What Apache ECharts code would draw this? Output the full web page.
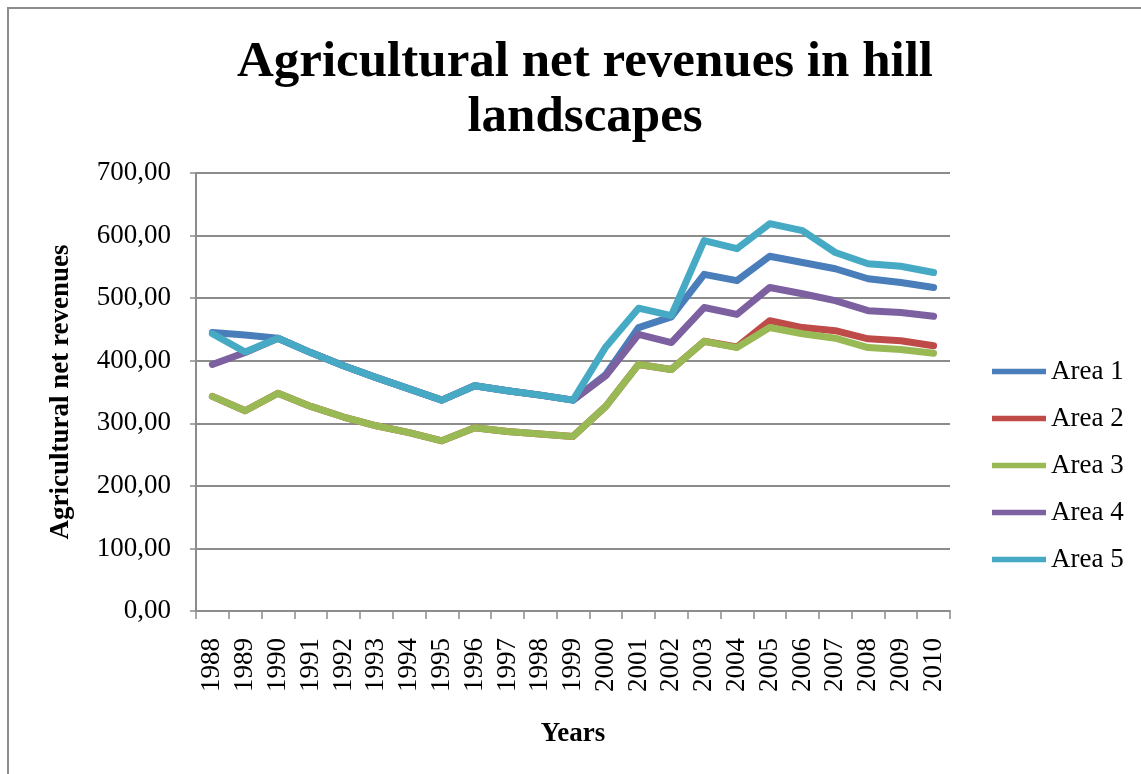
<!DOCTYPE html>
<html>
<head>
<meta charset="utf-8">
<script src="https://cdn.jsdelivr.net/npm/echarts@6/dist/echarts.min.js"></script>
<style>
  html, body { margin: 0; padding: 0; background: #fff; }
  #chart { width: 1141px; height: 774px; }
</style>
</head>
<body>
<div id="chart"></div>
<script>
// Years on the category axis
const years = ['1988','1989','1990','1991','1992','1993','1994','1995','1996','1997','1998','1999',
               '2000','2001','2002','2003','2004','2005','2006','2007','2008','2009','2010'];

// Agricultural net revenues per area
const area1 = [445, 441, 436, 413, 392, 373, 355, 337, 360, 352, 345, 337, 378, 453, 470, 538, 528, 567, 557, 547, 531, 525, 517];
const area2 = [343, 320, 348, 327, 310, 296, 285, 272, 293, 287, 283, 279, 327, 394, 386, 431, 422, 464, 453, 448, 435, 432, 424];
const area3 = [343, 320, 348, 327, 310, 296, 285, 272, 293, 287, 283, 279, 327, 394, 386, 431, 421, 453, 443, 436, 421, 418, 412];
const area4 = [394, 413, 436, 413, 392, 373, 355, 337, 360, 352, 345, 337, 376, 442, 429, 485, 474, 517, 507, 496, 480, 477, 471];
const area5 = [443, 414, 436, 413, 392, 373, 355, 337, 360, 352, 345, 337, 422, 484, 472, 592, 579, 619, 608, 573, 555, 551, 541];

const seriesNames = ['Area 1', 'Area 2', 'Area 3', 'Area 4', 'Area 5'];
const seriesData = [area1, area2, area3, area4, area5];
const colors = ['#4a7ebb', '#be4b48', '#98b954', '#7d60a0', '#46aac5'];

const serif = '"Liberation Serif", "DejaVu Serif", serif';

const chart = echarts.init(document.getElementById('chart'), null, { renderer: 'canvas' });

chart.setOption({
  backgroundColor: '#fff',
  animation: false,
  color: colors,
  graphic: [{
    type: 'rect',
    shape: { x: 8, y: 8, width: 1300, height: 900 },
    style: { fill: 'none', stroke: '#8c8c8c', lineWidth: 2 },
    silent: true
  }],
  title: {
    text: 'Agricultural net revenues in hill\nlandscapes',
    left: 580,
    top: 30,
    textAlign: 'center',
    textStyle: {
      fontFamily: serif,
      fontWeight: 'bold',
      fontSize: 51,
      lineHeight: 55,
      color: '#000'
    }
  },
  legend: {
    orient: 'vertical',
    left: 987,
    top: 353,
    itemWidth: 54,
    itemHeight: 14,
    itemGap: 20,
    icon: 'path://M0,0 L54,0 L54,5.5 L0,5.5 Z',
    textStyle: { fontFamily: serif, fontSize: 27, color: '#000' },
    data: seriesNames
  },
  grid: {
    left: 196,
    right: 191,
    top: 173,
    bottom: 163,
    containLabel: false
  },
  xAxis: {
    type: 'category',
    data: years,
    boundaryGap: true,
    name: 'Years',
    nameLocation: 'middle',
    nameGap: 110,
    nameTextStyle: { fontFamily: serif, fontWeight: 'bold', fontSize: 27, color: '#000' },
    axisLine: { lineStyle: { color: '#8c8c8c', width: 2 } },
    axisTick: { show: true, alignWithLabel: false, length: 8, lineStyle: { color: '#8c8c8c', width: 1.5 } },
    axisLabel: {
      rotate: 90,
      margin: 27,
      interval: 0,
      fontFamily: serif,
      fontSize: 27,
      color: '#000'
    },
    splitLine: { show: false }
  },
  yAxis: {
    type: 'value',
    min: 0,
    max: 700,
    interval: 100,
    name: 'Agricultural net revenues',
    nameLocation: 'middle',
    nameGap: 121,
    nameTextStyle: { fontFamily: serif, fontWeight: 'bold', fontSize: 27, color: '#000' },
    axisLine: { show: true, lineStyle: { color: '#8c8c8c', width: 2 } },
    axisTick: { show: true, length: 6, lineStyle: { color: '#8c8c8c', width: 1.5 } },
    axisLabel: {
      margin: 25,
      fontFamily: serif,
      fontSize: 27,
      color: '#000',
      formatter: v => v.toFixed(2).replace('.', ',')
    },
    splitLine: { lineStyle: { color: '#8c8c8c', width: 2 } }
  },
  series: seriesNames.map((name, i) => ({
    name: name,
    type: 'line',
    data: seriesData[i],
    symbol: 'none',
    showSymbol: false,
    smooth: false,
    lineStyle: { width: 7, color: colors[i], cap: 'round', join: 'round' },
    itemStyle: { color: colors[i] }
  }))
});
</script>
</body>
</html>
